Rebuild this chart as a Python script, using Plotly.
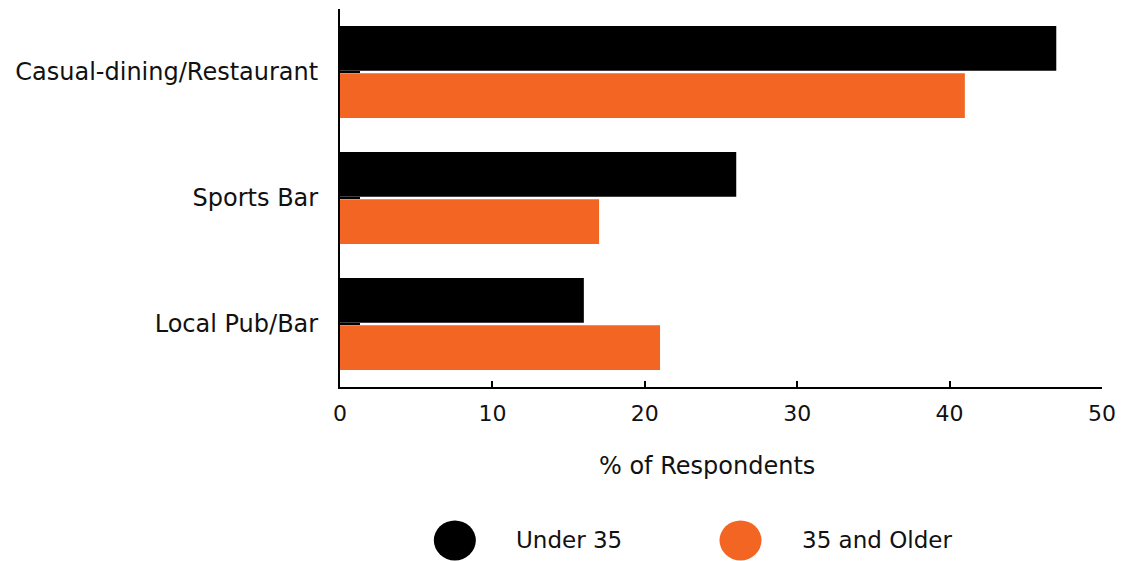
import plotly.graph_objects as go

categories = ["Casual-dining/Restaurant", "Sports Bar", "Local Pub/Bar"]
under35 = [47, 26, 16]
older35 = [41, 17, 21]
series_names = ["Under 35", "35 and Older"]
colors = ["#000000", "#F26522"]
xticks = [0, 10, 20, 30, 40, 50]

FONT = "DejaVu Sans"

fig = go.Figure()
fig.add_trace(go.Bar(y=categories, x=under35, orientation="h", name=series_names[0],
                     marker=dict(color=colors[0], line=dict(width=0)), showlegend=False))
fig.add_trace(go.Bar(y=categories, x=older35, orientation="h", name=series_names[1],
                     marker=dict(color=colors[1], line=dict(width=0)), showlegend=False))

fig.update_layout(
    width=1125, height=561,
    margin=dict(l=340, r=18, t=9, b=174),
    plot_bgcolor="white", paper_bgcolor="white",
    barmode="group", bargap=0.25, bargroupgap=0.05,
    font=dict(family=FONT, size=23, color="#111"),
    xaxis=dict(range=[0, 50], tickvals=xticks, ticks="inside", ticklen=6, tickwidth=2,
               tickcolor="black", showline=True, linecolor="black", linewidth=2,
               showgrid=False, zeroline=False, tickfont=dict(size=22), ticklabelstandoff=6),
    yaxis=dict(autorange="reversed", ticks="inside", ticklen=20, tickwidth=2,
               tickcolor="black", showline=True, linecolor="black", linewidth=2,
               showgrid=False, zeroline=False, ticklabelstandoff=15,
               tickfont=dict(size=24)),
)

# axis title
fig.add_annotation(text="% of Respondents", xref="paper", yref="paper", x=0.482, y=-0.2095,
                   showarrow=False, font=dict(size=24), xanchor="center", yanchor="middle")

# custom legend with large circles
leg_x = [0.1507, 0.5256]
text_x = [0.229, 0.6035]
for name, col, cx, tx in zip(series_names, colors, leg_x, text_x):
    fig.add_shape(type="circle", xref="paper", yref="paper", xsizemode="pixel", ysizemode="pixel",
                  xanchor=cx, yanchor=-0.406, x0=-21, x1=21, y0=-20, y1=20,
                  fillcolor=col, line=dict(width=0))
    fig.add_annotation(text=name, xref="paper", yref="paper", x=tx, y=-0.406,
                       showarrow=False, xanchor="left", yanchor="middle", font=dict(size=23))

fig.write_html("out.html", config={"displayModeBar": False},
               post_script="document.body.style.margin='0';document.body.style.overflow='hidden';")
